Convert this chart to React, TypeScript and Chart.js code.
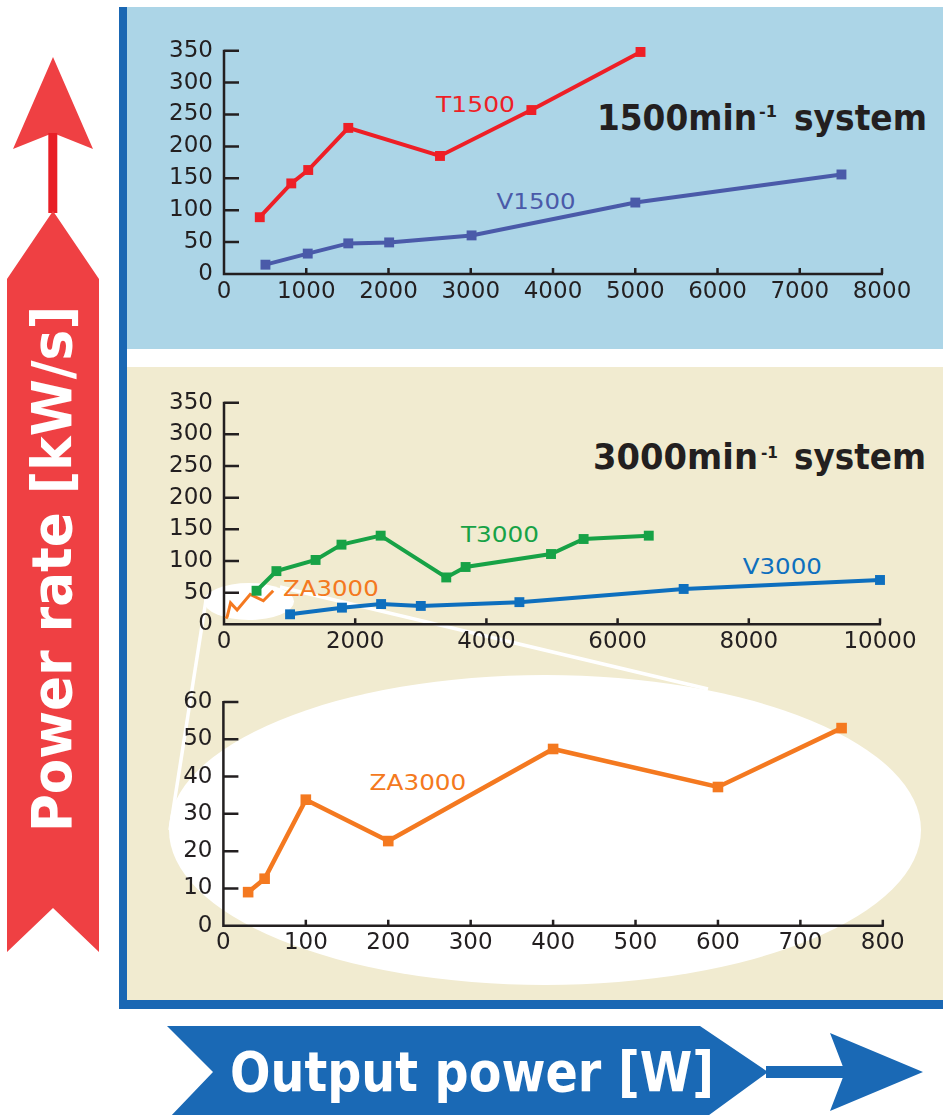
import React, { useEffect, useRef } from "react";
import { Chart, registerables } from "chart.js";

Chart.register(...registerables);

// ---------- data ----------
const t1500X = [435, 818, 1024, 1511, 2626, 3737, 5064];
const t1500Y = [89, 142, 163, 229, 185, 257, 348];
const v1500X = [504, 1018, 1511, 2008, 3010, 5001, 7507];
const v1500Y = [14.6, 32, 48, 49.5, 60.5, 112, 156];

const t3000X = [496, 799, 1396, 1791, 2388, 3388, 3683, 4985, 5482, 6475];
const t3000Y = [53, 84, 101.6, 125.8, 140, 74, 90.5, 111, 134.7, 140];
const v3000X = [1007, 1798, 2395, 3000, 4503, 7007, 10000];
const v3000Y = [15.8, 26.3, 32, 29, 35, 55.8, 70];
const za3000X = [30, 50, 100, 200, 400, 600, 750];
const za3000Y = [9, 12.6, 33.8, 22.7, 47.4, 37.2, 53];

// axis ranges / tick steps
const topXMax = 8000, topXStep = 1000, topYMax = 350, topYStep = 50;
const midXMax = 10000, midXStep = 2000, midYMax = 350, midYStep = 50;
const lowXMax = 800, lowXStep = 100, lowYMax = 60, lowYStep = 10;

// ---------- styles ----------
const AXIS = "#231f20";
const RED = "#ee1f26";
const SLATE = "#4a5aa9";
const GREEN = "#17a246";
const BLUE = "#0e6fbe";
const ORANGE = "#f47920";
const TICK_FONT = { family: "DejaVu Sans", size: 23 };

const pts = (xs: number[], ys: number[]) => xs.map((x, i) => ({ x, y: ys[i] }));

const axesPlugin = {
  id: "customAxes",
  beforeDatasetsDraw(chart: any) {
    const { ctx, chartArea: a, scales } = chart;
    const x = scales.x, y = scales.y;
    ctx.save();
    ctx.strokeStyle = AXIS;
    ctx.lineWidth = 2.5;
    ctx.beginPath();
    ctx.moveTo(a.left, a.top - 1);
    ctx.lineTo(a.left, a.bottom);
    ctx.lineTo(a.right + 1, a.bottom);
    y.ticks.forEach((t: any) => {
      const py = y.getPixelForValue(t.value);
      ctx.moveTo(a.left, py);
      ctx.lineTo(a.left + 15, py);
    });
    x.ticks.forEach((t: any) => {
      const px = x.getPixelForValue(t.value);
      ctx.moveTo(px, a.bottom);
      ctx.lineTo(px, a.bottom - 6);
    });
    ctx.stroke();
    ctx.restore();
  },
};

type Box = { left: number; top: number; width: number; height: number };
type Area = { l: number; r: number; t: number; b: number };

function makeLine(data: any[], color: string, width: number, radius: number) {
  return {
    data,
    borderColor: color,
    backgroundColor: color,
    borderWidth: width,
    pointStyle: "rect",
    pointRadius: radius,
    pointBorderWidth: 0,
    pointHoverRadius: radius,
    tension: 0,
    clip: false,
  };
}

function ChartBox(props: {
  box: Box;
  area: Area;
  datasets: any[];
  xMax: number;
  xStep: number;
  yMax: number;
  yStep: number;
}) {
  const ref = useRef<HTMLCanvasElement>(null);
  const { box, area, datasets, xMax, xStep, yMax, yStep } = props;
  useEffect(() => {
    if (!ref.current) return;
    const yWidth = area.l - box.left;
    const xHeight = box.top + box.height - area.b;
    const chart = new Chart(ref.current, {
      type: "line",
      data: { datasets },
      options: {
        animation: false,
        responsive: false,
        maintainAspectRatio: false,
        events: [],
        layout: {
          padding: {
            left: 0,
            top: area.t - box.top,
            right: box.left + box.width - area.r,
            bottom: 0,
          },
        },
        plugins: { legend: { display: false }, tooltip: { enabled: false } },
        scales: {
          x: {
            type: "linear",
            min: 0,
            max: xMax,
            grid: { display: false, drawTicks: false },
            border: { display: false },
            ticks: {
              stepSize: xStep,
              autoSkip: false,
              maxRotation: 0,
              font: TICK_FONT,
              color: AXIS,
              padding: 4,
              callback: (v: any) => String(v),
            },
            afterFit: (s: any) => {
              s.height = xHeight;
            },
          },
          y: {
            type: "linear",
            min: 0,
            max: yMax,
            grid: { display: false, drawTicks: false },
            border: { display: false },
            ticks: {
              stepSize: yStep,
              autoSkip: false,
              font: TICK_FONT,
              color: AXIS,
              padding: 11,
              callback: (v: any) => String(v),
            },
            afterFit: (s: any) => {
              s.width = yWidth;
            },
          },
        },
      } as any,
      plugins: [axesPlugin],
    });
    return () => chart.destroy();
  }, []);
  return (
    <div style={{ position: "absolute", left: box.left, top: box.top, width: box.width, height: box.height }}>
      <canvas ref={ref} width={box.width} height={box.height} style={{ width: box.width, height: box.height, display: "block" }} />
    </div>
  );
}

const T = (p: any) => (
  <text
    x={p.x}
    y={p.y}
    fontSize={p.size}
    fontWeight={p.bold ? "bold" : "normal"}
    fontFamily={p.family || "DejaVu Sans"}
    fill={p.fill}
    textLength={p.len}
    lengthAdjust="spacingAndGlyphs"
    transform={p.transform}
  >
    {p.children}
  </text>
);

export default function App() {
  const topData = [
    makeLine(pts(t1500X, t1500Y), RED, 4, 7),
    makeLine(pts(v1500X, v1500Y), SLATE, 4, 7),
  ];
  const midData = [
    makeLine(pts(t3000X, t3000Y), GREEN, 4, 7),
    makeLine(pts(v3000X, v3000Y), BLUE, 4, 7),
    makeLine(pts(za3000X, za3000Y), ORANGE, 3, 0),
  ];
  const lowData = [makeLine(pts(za3000X, za3000Y), ORANGE, 4.5, 7.5)];

  const ARROW_FONT = "DejaVu Sans Condensed, Liberation Sans Narrow, DejaVu Sans";

  return (
    <div style={{ position: "absolute", left: 0, top: 0, width: 943, height: 1115, background: "#ffffff", overflow: "hidden" }}>
      <svg width={943} height={1115} style={{ position: "absolute", left: 0, top: 0 }}>
        {/* panels */}
        <rect x={127} y={7} width={816} height={342} fill="#acd5e7" />
        <rect x={127} y={367} width={816} height={633} fill="#f1ebd0" />
        {/* frame */}
        <rect x={119} y={7} width={8} height={1002} fill="#1a67b3" />
        <rect x={119} y={1000} width={824} height={9} fill="#1a67b3" />
        {/* callout */}
        <ellipse cx={545} cy={830} rx={376} ry={155} fill="#ffffff" />
        <ellipse cx={249} cy={601.5} rx={45} ry={18.5} fill="#ffffff" />
        <line x1={206} y1={600} x2={170} y2={830} stroke="#ffffff" strokeWidth={3.5} />
        <line x1={280} y1={587} x2={708} y2={689} stroke="#ffffff" strokeWidth={3.5} />

        {/* red vertical arrow */}
        <polygon points="53,57 93,149 53,133 13,149" fill="#ef4043" />
        <rect x={48.3} y={133} width={9} height={80} fill="#e81e26" />
        <polygon points="53,211 99,279 99,952 53,908 7,952 7,279" fill="#ef4043" />
        <T x={0} y={0} size={56} bold family={ARROW_FONT} fill="#ffffff" len={526} transform="translate(71,832) rotate(-90)">
          Power rate [kW/s]
        </T>

        {/* blue horizontal arrow */}
        <polygon points="167,1026 700,1026 768,1072 705,1118 169,1118 213,1072" fill="#1a69b5" />
        <rect x={766} y={1066} width={80} height={12} fill="#1a69b5" />
        <polygon points="830,1033 923,1072 830,1111 845,1072" fill="#1a69b5" />
        <T x={230} y={1091} size={56} bold family={ARROW_FONT} fill="#ffffff" len={484}>
          Output power [W]
        </T>

        {/* system titles */}
        <T x={597} y={130} size={36} bold fill="#231f20" len={160}>1500min</T>
        <T x={759} y={117} size={16} bold fill="#231f20" len={18}>-1</T>
        <T x={794} y={130} size={36} bold fill="#231f20" len={133}>system</T>

        <T x={593} y={469.3} size={35} bold fill="#231f20" len={165}>3000min</T>
        <T x={761} y={457.5} size={16} bold fill="#231f20" len={17}>-1</T>
        <T x={794} y={469.3} size={35} bold fill="#231f20" len={132}>system</T>

        {/* series labels */}
        <T x={436} y={111.7} size={22} fill={RED} len={79}>T1500</T>
        <T x={496.6} y={209} size={22} fill={SLATE} len={79}>V1500</T>
        <T x={461} y={542.3} size={22} fill={GREEN} len={78}>T3000</T>
        <T x={742.8} y={574} size={22} fill={BLUE} len={79}>V3000</T>
        <T x={283} y={595.7} size={22} fill={ORANGE} len={95.7}>ZA3000</T>
        <T x={369.6} y={790} size={22} fill={ORANGE} len={96.7}>ZA3000</T>
      </svg>

      <ChartBox
        box={{ left: 127, top: 7, width: 816, height: 342 }}
        area={{ l: 224, r: 882, t: 50.7, b: 274 }}
        datasets={topData}
        xMax={topXMax}
        xStep={topXStep}
        yMax={topYMax}
        yStep={topYStep}
      />
      <ChartBox
        box={{ left: 127, top: 367, width: 816, height: 300 }}
        area={{ l: 224, r: 880, t: 402.7, b: 624.3 }}
        datasets={midData}
        xMax={midXMax}
        xStep={midXStep}
        yMax={midYMax}
        yStep={midYStep}
      />
      <ChartBox
        box={{ left: 127, top: 660, width: 816, height: 340 }}
        area={{ l: 223.4, r: 882.8, t: 702, b: 925.7 }}
        datasets={lowData}
        xMax={lowXMax}
        xStep={lowXStep}
        yMax={lowYMax}
        yStep={lowYStep}
      />
    </div>
  );
}
